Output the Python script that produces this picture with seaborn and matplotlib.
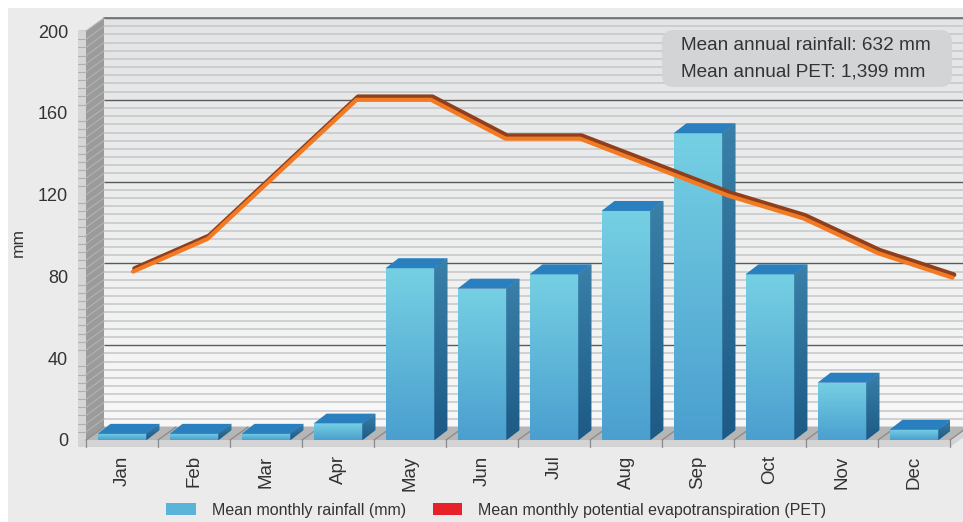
import numpy as np
import pandas as pd
import matplotlib
matplotlib.use("Agg")
import matplotlib.pyplot as plt
import matplotlib.transforms as mtransforms
from matplotlib.patches import Polygon, Rectangle, FancyBboxPatch, Patch
from matplotlib.colors import LinearSegmentedColormap
import seaborn as sns

# ---------------- data ----------------
months = ["Jan", "Feb", "Mar", "Apr", "May", "Jun", "Jul", "Aug", "Sep", "Oct", "Nov", "Dec"]
rainfall = [3, 3, 3, 8, 84, 74, 81, 112, 150, 81, 28, 5]
pet = [76, 92, 126, 160, 160, 141, 141, 127, 113, 102, 85, 73]
yticks = [0, 40, 80, 120, 160, 200]
legend_labels = ["Mean monthly rainfall (mm)", "Mean monthly potential evapotranspiration (PET)"]
summary_lines = ["Mean annual rainfall: 632 mm", "Mean annual PET: 1,399 mm"]
y_label = "mm"

# ---------------- style ----------------
sns.set_theme(style="white")
plt.rcParams["font.family"] = ["Liberation Sans", "DejaVu Sans"]
TXT = "#333333"

W, H = 963, 522
fig = plt.figure(figsize=(W / 100, H / 100), dpi=100, facecolor="white")
fig.patches.append(Rectangle((8 / W, 0), 1, 1 - 8 / H, transform=fig.transFigure,
                             facecolor="#ebebeb", edgecolor="none", zorder=-1))

ax = fig.add_axes([86 / W, (H - 440) / H, 864 / W, 409 / H])
ax.set_facecolor("none")
for s in ax.spines.values():
    s.set_visible(False)

# depth offsets (oblique 3D look)
DX, DY = 18 / 72, 13 / 2.045      # walls
BDX, BDY = 13 / 72, 10 / 2.045    # bars
STRIP = 8 / 72

df = pd.DataFrame({"month": months, "rain": rainfall})
sns.barplot(data=df, x="month", y="rain", order=months, width=0.68, color="#5cb6da",
            saturation=1, linewidth=0, ax=ax, zorder=5)
bars = list(ax.patches)

XL, XR = -0.5, 11.5
ax.set_xlim(XL, XR)
ax.set_ylim(0, 200)

# back wall with gradient
wall_grad = LinearSegmentedColormap.from_list("w", ["#f8f8f8", "#e3e4e5"])
ax.imshow(np.linspace(0, 1, 256).reshape(-1, 1), extent=(XL + DX, XR + 2, DY, 200 + DY),
          origin="lower", cmap=wall_grad, aspect="auto", zorder=0.5, clip_on=False)
for v in np.arange(0, 201, 4):
    major = v % 40 == 0
    ax.plot([XL + DX, XR + 2], [v + DY, v + DY], color="#5a5a5a" if major else "#c5c6c7",
            lw=1.0 if major else 1.1, zorder=1.5 if major else 1, clip_on=False,
            solid_capstyle="butt")
ax.plot([XL + DX, XR + 2], [200 + DY, 200 + DY], color="#777777", lw=1.3, zorder=1.6, clip_on=False)

# left side wall
ax.add_patch(Polygon([(XL, 0), (XL, 200), (XL + DX, 200 + DY), (XL + DX, DY)], closed=True,
                     facecolor="#9b9b9b", edgecolor="none", zorder=2, clip_on=False))
for v in np.arange(0, 201, 4):
    ax.plot([XL, XL + DX], [v, v + DY], color="#b4b4b4", lw=0.8, zorder=2.1, clip_on=False)
# front strip of the left wall
ax.add_patch(Polygon([(XL - STRIP, 0), (XL - STRIP, 200), (XL, 200), (XL, 0)], closed=True,
                     facecolor="#d6d6d6", edgecolor="none", zorder=2, clip_on=False))
for v in np.arange(0, 201, 4):
    if v % 40:
        ax.plot([XL - STRIP, XL], [v, v], color="#b0b0b0", lw=0.8, zorder=2.2, clip_on=False)

# floor
FS = 7 / 2.045
ax.add_patch(Polygon([(XL - STRIP, 0), (XR, 0), (XR + DX, DY), (XR + DX, DY - FS), (XR, -FS),
                      (XL - STRIP, -FS)], closed=True,
                     facecolor="#d4d4d4", edgecolor="none", zorder=1.9, clip_on=False))
ax.add_patch(Polygon([(XL, 0), (XR, 0), (XR + DX, DY), (XL + DX, DY)], closed=True,
                     facecolor="#b6b6b6", edgecolor="none", zorder=2.05, clip_on=False))
for k in range(13):
    xb = XL + k
    ax.plot([xb, xb + DX], [0, DY], color="#8a8a8a", lw=0.9, zorder=2.3, clip_on=False)
    ax.plot([xb, xb], [0, -FS], color="#8a8a8a", lw=0.9, zorder=2.3, clip_on=False)

# 3D bars
front_cmap = LinearSegmentedColormap.from_list("f", ["#4a9fcf", "#76d0e3"])
side_cmap = LinearSegmentedColormap.from_list("s", ["#1d5a86", "#3a80a8"])
grad = np.linspace(0, 1, 256).reshape(-1, 1)
for b in bars:
    x0, w, h = b.get_x(), b.get_width(), b.get_height()
    im = ax.imshow(grad, extent=(x0, x0 + w, 0, h), origin="lower", cmap=front_cmap,
                   aspect="auto", zorder=5.1)
    im.set_clip_path(b)
    top = Polygon([(x0, h), (x0 + w, h), (x0 + w + BDX, h + BDY), (x0 + BDX, h + BDY)],
                  closed=True, facecolor="#2a7fbf", edgecolor="none", zorder=5.2)
    ax.add_patch(top)
    side = Polygon([(x0 + w, 0), (x0 + w, h), (x0 + w + BDX, h + BDY), (x0 + w + BDX, BDY)],
                   closed=True, facecolor="#2b6e98", edgecolor="none", zorder=5.2)
    ax.add_patch(side)
    ims = ax.imshow(grad, extent=(x0 + w, x0 + w + BDX, 0, h + BDY), origin="lower",
                    cmap=side_cmap, aspect="auto", zorder=5.3)
    ims.set_clip_path(side)

ax.set_xlim(XL, XR)
ax.set_ylim(0, 200)

# PET line (drawn at the back-wall depth, as a small ribbon)
line_x = np.linspace(0.153, 11.535, len(pet))
line_y = np.array(pet) + DY
sns.lineplot(x=line_x, y=line_y, ax=ax, color="#8f3f1c", lw=3.4, sort=False, zorder=9,
             estimator=None)
shadow = ax.lines[-1]
shadow.set_transform(ax.transData + mtransforms.ScaledTranslation(0.015, 0.03, fig.dpi_scale_trans))
shadow.set_solid_joinstyle("round")
shadow.set_clip_on(False)
sns.lineplot(x=line_x, y=line_y, ax=ax, color="#f27a22", lw=3.0, sort=False, zorder=10,
             estimator=None)
ax.lines[-1].set_solid_joinstyle("round")
ax.lines[-1].set_clip_on(False)
if ax.get_legend() is not None:
    ax.get_legend().remove()

# ticks & labels
ax.set_xlabel("")
ax.set_ylabel("")
ax.set_xticks(range(len(months)))
ax.set_xticklabels(months, rotation=90)
ax.set_yticks(yticks)
ax.set_yticklabels([str(v) for v in yticks])
ax.tick_params(axis="y", left=True, length=5.8, width=1.0, color="#555555", pad=7,
               labelsize=13, labelcolor=TXT)
ax.tick_params(axis="x", bottom=False, length=0, pad=11, labelsize=13.5, labelcolor=TXT)
ax.grid(False)
ax.set_xlim(XL, XR)
ax.set_ylim(0, 200)

fig.text(18 / W, 1 - 243 / H, y_label, rotation=90, ha="center", va="center",
         fontsize=12.5, color=TXT)

# summary box
box = FancyBboxPatch((662, H - 87), 290, 57, boxstyle="round,pad=0,rounding_size=12",
                     transform=mtransforms.IdentityTransform(), facecolor="#d3d4d5",
                     edgecolor="none", zorder=5)
fig.patches.append(box)
fig.text(681 / W, 1 - 46 / H, summary_lines[0], ha="left", va="center", fontsize=13.7,
         color=TXT, zorder=6)
fig.text(681 / W, 1 - 72 / H, summary_lines[1], ha="left", va="center", fontsize=13.7,
         color=TXT, zorder=6)

# legend
handles = [Patch(facecolor="#5ab4da", edgecolor="none"), Patch(facecolor="#e8202a", edgecolor="none")]
fig.legend(handles, legend_labels, loc="center left", bbox_to_anchor=(166 / W, 1 - 510 / H), ncol=2,
           frameon=False, fontsize=11.5, handlelength=1.85, handleheight=0.8, handletextpad=1.0,
           columnspacing=1.7, borderpad=0, borderaxespad=0, labelcolor=TXT)

fig.savefig("out.png", dpi=100, facecolor=fig.get_facecolor())
